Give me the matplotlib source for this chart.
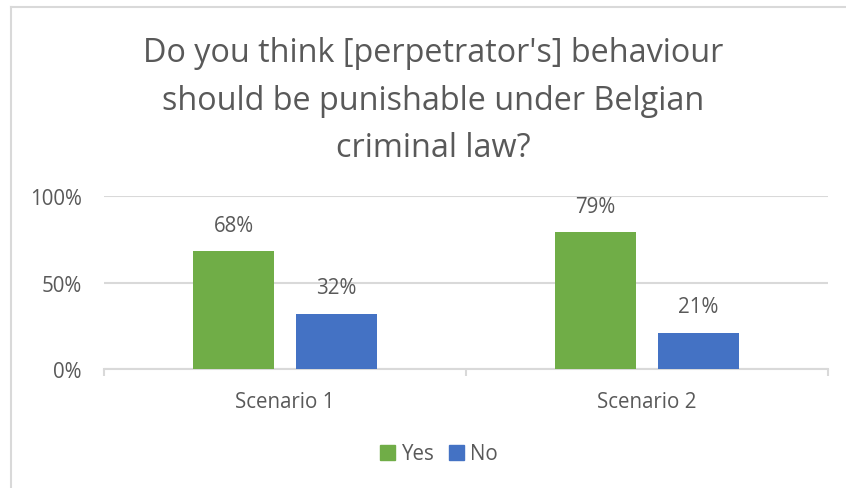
import matplotlib
matplotlib.use("Agg")
import matplotlib.pyplot as plt
import numpy as np
from matplotlib.lines import Line2D
from matplotlib.patches import Patch

# survey answers per scenario
scenarios = ["Scenario 1", "Scenario 2"]
yes_share = [0.68, 0.79]
no_share = [0.32, 0.21]
y_ticks = [0, 0.5, 1.0]
y_tick_labels = ["0%", "50%", "100%"]

GREEN = "#70AD47"
BLUE = "#4472C4"
TEXT = "#595959"
GRID = "#D9D9D9"
FS = 14.8

plt.rcParams["font.family"] = ["Open Sans", "DejaVu Sans"]

W, H = 846, 489
fig = plt.figure(figsize=(W / 100, H / 100), dpi=100)

# chart frame (top and left edges visible)
fig.add_artist(Line2D([11 / W, 11 / W], [0, 1 - 8 / H], transform=fig.transFigure,
                      color=GRID, lw=1.5))
fig.add_artist(Line2D([11 / W, 1], [1 - 8 / H, 1 - 8 / H], transform=fig.transFigure,
                      color=GRID, lw=1.5))

fig.text(433 / W, 1 - 101 / H,
         "Do you think [perpetrator's] behaviour\nshould be punishable under Belgian\ncriminal law?",
         ha="center", va="center", fontsize=23.3, color=TEXT, linespacing=1.58)

ax = fig.add_axes([104 / W, 1 - 370 / H, 724 / W, 173 / H])
x = np.arange(len(scenarios))
bw = 0.224
off = 0.142
b1 = ax.bar(x - off, yes_share, bw, color=GREEN, zorder=3)
b2 = ax.bar(x + off, no_share, bw, color=BLUE, zorder=3)

for bars, vals in ((b1, yes_share), (b2, no_share)):
    for rect, v in zip(bars, vals):
        ax.annotate(f"{v:.0%}", (rect.get_x() + rect.get_width() / 2, v),
                    xytext=(0, 18.5), textcoords="offset points",
                    ha="center", va="center", fontsize=FS, color=TEXT)

ax.set_xlim(-0.5, 1.5)
ax.set_ylim(0, 1)
ax.set_yticks(y_ticks)
ax.set_yticklabels(y_tick_labels)
ax.yaxis.grid(True, color=GRID, lw=1.5, zorder=0)
ax.set_axisbelow(True)
for s in ("top", "right", "left"):
    ax.spines[s].set_visible(False)
ax.spines["bottom"].set_color(GRID)
ax.spines["bottom"].set_linewidth(1.5)
ax.tick_params(axis="y", length=0, pad=16, labelsize=FS, labelcolor=TEXT)

ax.set_xticks(x)
ax.set_xticklabels(scenarios)
ax.tick_params(axis="x", length=0, pad=16, labelsize=FS, labelcolor=TEXT)
# category boundary ticks
ax.set_xticks([-0.5, 0.5, 1.5], minor=True)
ax.tick_params(axis="x", which="minor", length=5, width=1.5, color=GRID, direction="out")

handles = [Patch(color=GREEN, label="Yes"), Patch(color=BLUE, label="No")]
fig.legend(handles=handles, loc="center", bbox_to_anchor=(439 / W, 1 - 455 / H),
           ncol=2, frameon=False, fontsize=FS, labelcolor=TEXT,
           handlelength=0.7, handleheight=0.7, handletextpad=0.3, columnspacing=0.75)

fig.savefig("out.png", dpi=100)
